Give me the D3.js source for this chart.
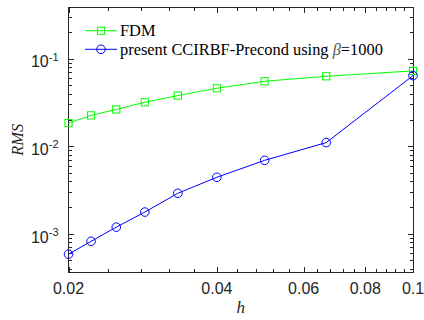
<!DOCTYPE html>
<html><head><meta charset="utf-8">
<script src="https://cdn.jsdelivr.net/npm/d3@7"></script>
<style>body{margin:0;background:#fff}</style>
</head><body><svg id="chart" width="424" height="320"></svg>
<script>
// grid spacing h and RMS errors of each method
const h = [1/50, 1/45, 1/40, 1/35, 1/30, 1/25, 1/20, 1/15, 1/10];
const rmsFDM = [0.0184, 0.0225, 0.0263, 0.0318, 0.0379, 0.0459, 0.0552, 0.0629, 0.0725];
const rmsCCIRBF = [5.85e-4, 8.2e-4, 1.19e-3, 1.77e-3, 2.9e-3, 4.42e-3, 6.9e-3, 1.1e-2, 6.4e-2];
const xTickLabels = [0.02, 0.04, 0.06, 0.08, 0.1];
const yTickExponents = [-3, -2, -1];
const seriesNames = ["FDM", "present CCIRBF-Precond using "];

const svg = d3.select("#chart");
const L = 68.5, R = 413, T = 7.5, B = 272;
const axisColor = "#262626";

const x = d3.scaleLog().domain([0.02, 0.1]).range([L, R]);
const y = d3.scaleLog().domain([3.66e-4, 0.384]).range([B, T]);

// minor ticks: every 0.004 along h, 2..9 x 10^k along RMS
const xMinor = d3.range(0.024, 0.1, 0.004).filter(v => !xTickLabels.some(t => Math.abs(t - v) < 1e-9));
const yMinor = [];
for (let k = -4; k <= -1; k++) for (let m = 2; m <= 9; m++) {
  const v = m * Math.pow(10, k);
  if (v >= y.domain()[0] && v <= y.domain()[1]) yMinor.push(v);
}
const yMajor = yTickExponents.map(e => Math.pow(10, e));

function tickAxis(axisFn, scale, vals, size, tx, ty) {
  const g = svg.append("g").attr("transform", `translate(${tx},${ty})`)
    .call(axisFn(scale).tickValues(vals).tickSize(size).tickFormat(""));
  g.select(".domain").remove();
  g.selectAll("line").attr("stroke", axisColor).attr("shape-rendering", "crispEdges");
  g.selectAll("text").remove();
}
// inward ticks on all four sides
tickAxis(d3.axisBottom, x, xTickLabels, -5, 0, B);
tickAxis(d3.axisBottom, x, xMinor, -3, 0, B);
tickAxis(d3.axisTop, x, xTickLabels, -5, 0, T);
tickAxis(d3.axisTop, x, xMinor, -3, 0, T);
tickAxis(d3.axisLeft, y, yMajor, -5, L, 0);
tickAxis(d3.axisLeft, y, yMinor, -3, L, 0);
tickAxis(d3.axisRight, y, yMajor, -5, R, 0);
tickAxis(d3.axisRight, y, yMinor, -3, R, 0);

svg.append("rect").attr("x", L).attr("y", T).attr("width", R - L).attr("height", B - T)
  .attr("fill", "none").attr("stroke", axisColor).attr("stroke-width", 1)
  .attr("shape-rendering", "crispEdges");

// tick labels
svg.append("g").selectAll("text").data(xTickLabels).join("text")
  .attr("x", d => x(d)).attr("y", 294)
  .attr("text-anchor", "middle")
  .attr("font-family", "'Liberation Sans', Arial, sans-serif")
  .attr("font-size", 16).attr("fill", axisColor)
  .text(d => d3.format("~g")(d));

const yl = svg.append("g").selectAll("text").data(yTickExponents).join("text")
  .attr("x", 58.5).attr("y", d => y(Math.pow(10, d)) + 8.8)
  .attr("text-anchor", "end")
  .attr("font-family", "'Liberation Sans', Arial, sans-serif")
  .attr("font-size", 16).attr("fill", axisColor);
yl.append("tspan").text("10");
yl.append("tspan").attr("dy", -6.7).attr("font-size", 11).text(d => String(d));

// axis titles
svg.append("text").attr("x", (L + R) / 2).attr("y", 313)
  .attr("text-anchor", "middle")
  .attr("font-family", "'Liberation Serif', 'Times New Roman', serif")
  .attr("font-style", "italic").attr("font-size", 17).attr("fill", axisColor)
  .text("h");
svg.append("text").attr("transform", `translate(23,${(T + B) / 2}) rotate(-90)`)
  .attr("text-anchor", "middle")
  .attr("font-family", "'Liberation Serif', 'Times New Roman', serif")
  .attr("font-style", "italic").attr("font-size", 16.5).attr("fill", axisColor)
  .text("RMS");

// data lines and markers
const line = d3.line().x((d, i) => x(h[i])).y(d => y(d));
const series = [
  {vals: rmsFDM, color: "#00ff00", marker: "square"},
  {vals: rmsCCIRBF, color: "#0000ff", marker: "circle"}
];
function drawMarker(g, shape, color, cx, cy) {
  if (shape === "square") {
    g.append("rect").attr("x", cx - 3.6).attr("y", cy - 3.6).attr("width", 7.2).attr("height", 7.2)
      .attr("fill", "none").attr("stroke", color).attr("stroke-width", 1);
  } else {
    g.append("circle").attr("cx", cx).attr("cy", cy).attr("r", 4.3)
      .attr("fill", "none").attr("stroke", color).attr("stroke-width", 1);
  }
}
series.forEach(s => {
  svg.append("path").datum(s.vals).attr("d", line)
    .attr("fill", "none").attr("stroke", s.color).attr("stroke-width", 1);
  const g = svg.append("g");
  s.vals.forEach((v, i) => drawMarker(g, s.marker, s.color, x(h[i]), y(v)));
});

// legend
const legendRows = [30.7, 49.3];
series.forEach((s, i) => {
  const ly = legendRows[i];
  svg.append("line").attr("x1", 85).attr("x2", 117).attr("y1", ly).attr("y2", ly)
    .attr("stroke", s.color).attr("stroke-width", 1);
  drawMarker(svg.append("g"), s.marker, s.color, 101, ly);
  const t = svg.append("text").attr("x", 120).attr("y", ly + 5.6)
    .attr("font-family", "'Liberation Serif', 'Times New Roman', serif")
    .attr("font-size", 16.4).attr("fill", "#000");
  t.append("tspan").text(seriesNames[i]);
  if (i === 1) {
    t.append("tspan").attr("font-style", "italic").attr("fill", "#555").text("β");
    t.append("tspan").text("=1000");
  }
});
</script></body></html>
